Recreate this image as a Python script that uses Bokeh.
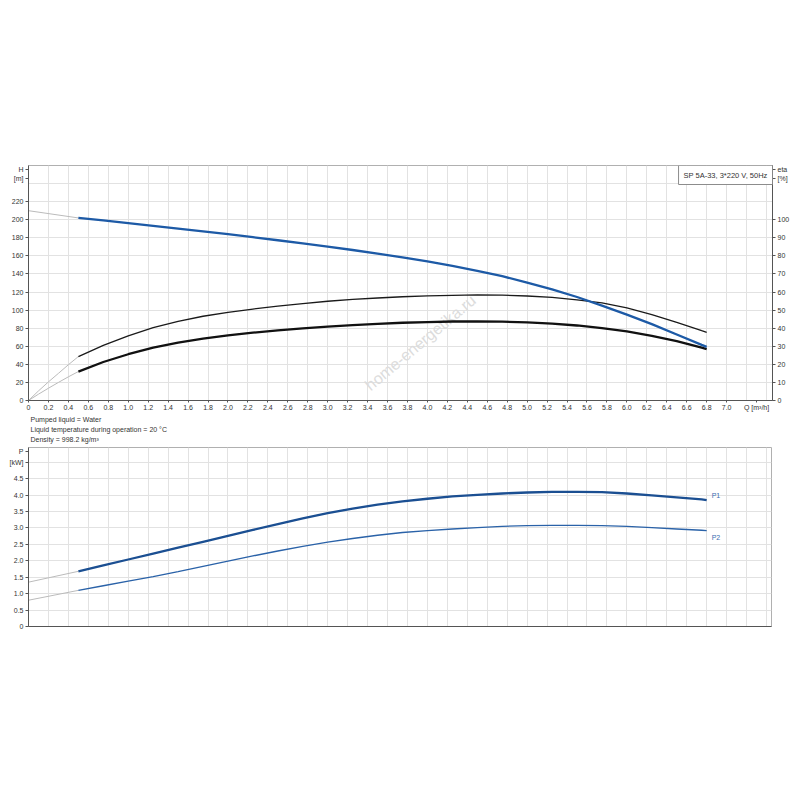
from bokeh.plotting import figure
from bokeh.models import Range1d, LinearAxis, FixedTicker, Label, Title
from bokeh.layouts import column
from bokeh.embed import file_html
from bokeh.resources import INLINE

FONT = "Liberation Sans"

# flow axis, m3/h
q_main = [0.5, 0.75, 1.0, 1.25, 1.5, 1.75, 2.0, 2.25, 2.5, 2.75, 3.0, 3.25, 3.5, 3.75,
          4.0, 4.25, 4.5, 4.75, 5.0, 5.25, 5.5, 5.75, 6.0, 6.25, 6.5, 6.75, 6.8]
# head H [m]
head = [202, 199.2, 196.2, 193.2, 190.2, 187.1, 184, 180.7, 177.3, 173.8, 170.2, 166.5, 162.5, 158.3,
        154, 149, 143.5, 137.5, 130.5, 123, 114.5, 105, 95, 84.5, 73, 61.5, 59.3]
# eta pump [%]
eta_pump = [24.3, 30.5, 35.8, 40.3, 43.8, 46.6, 48.8, 50.6, 52.2, 53.6, 54.9, 55.9, 56.7, 57.4,
            57.9, 58.2, 58.4, 58.3, 57.8, 57.0, 55.7, 54.0, 51.2, 47.5, 43.2, 38.6, 37.7]
# eta total [%]
eta_total = [16.0, 21.3, 25.6, 29.2, 32.0, 34.2, 36.0, 37.5, 38.8, 39.9, 40.9, 41.7, 42.4, 43.0,
             43.4, 43.7, 43.8, 43.6, 43.2, 42.5, 41.5, 40.0, 38.2, 35.8, 32.9, 29.2, 28.4]
# power [kW]
p1 = [1.68, 1.86, 2.04, 2.22, 2.40, 2.58, 2.76, 2.94, 3.12, 3.29, 3.45, 3.59, 3.71, 3.81,
      3.89, 3.96, 4.01, 4.05, 4.08, 4.10, 4.10, 4.09, 4.05, 3.99, 3.93, 3.87, 3.85]
p2 = [1.10, 1.24, 1.38, 1.52, 1.67, 1.83, 1.99, 2.15, 2.30, 2.44, 2.57, 2.68, 2.78, 2.86,
      2.92, 2.97, 3.01, 3.05, 3.07, 3.08, 3.08, 3.07, 3.05, 3.01, 2.97, 2.93, 2.92]

# grey parts below the minimum flow
q_low = [0.0, 0.5]
head_low = [210, 202]
p1_low = [1.35, 1.68]
p2_low = [0.80, 1.10]
q_low_eta = [0.0, 0.1, 0.2, 0.3, 0.4, 0.5]
eta_pump_low = [0.0, 5.3, 10.3, 15.0, 19.8, 24.3]
eta_total_low = [0.0, 3.5, 6.8, 10.0, 13.1, 16.0]

q_ticks = [round(0.2 * i, 1) for i in range(36)]
q_grid = [round(0.2 * i, 1) for i in range(38)]
h_ticks = list(range(0, 240, 20))
h_grid = list(range(0, 260, 20))
eta_ticks = list(range(0, 110, 10))
p_ticks = [0, 0.5, 1.0, 1.5, 2.0, 2.5, 3.0, 3.5, 4.0, 4.5]
p_grid = [0, 0.5, 1.0, 1.5, 2.0, 2.5, 3.0, 3.5, 4.0, 4.5, 5.0]
notes = ["Pumped liquid = Water",
         "Liquid temperature during operation = 20 °C",
         "Density = 998.2 kg/m³"]

BLUE = "#1d5aa6"
GREY = "#bbbbbb"


def style_axis(ax):
    ax.axis_line_color = "#555555"
    ax.major_tick_line_color = "#555555"
    ax.major_tick_in = 0
    ax.major_tick_out = 3
    ax.minor_tick_line_color = None
    ax.major_label_standoff = 2
    ax.major_label_text_font = FONT
    ax.major_label_text_font_size = "7px"
    ax.major_label_text_color = "#333333"


def num(t):
    return "0" if t == 0 else "%.1f" % t


# ---- top chart: head and efficiency
top = figure(frame_width=744, frame_height=235, x_range=Range1d(0, 7.46), y_range=Range1d(0, 260),
             min_border_left=28, min_border_right=26, min_border_top=165, min_border_bottom=44,
             output_backend="svg", toolbar_location=None)
top.extra_y_ranges = {"eta": Range1d(0, 130)}
top.outline_line_color = "#b0b0b0"

# axis names sit in the tick label slots
x_labels = {t: num(t) for t in q_ticks}
x_labels[7.3] = "Q [m³/h]"
top.xaxis.ticker = FixedTicker(ticks=q_ticks + [7.3])
top.xaxis.major_label_overrides = x_labels
h_labels = {t: str(t) for t in h_ticks}
h_labels.update({245.5: "[m]", 255.5: "H"})
top.yaxis.ticker = FixedTicker(ticks=h_ticks + [245.5, 255.5])
top.yaxis.major_label_overrides = h_labels
eta_labels = {t: str(t) for t in eta_ticks}
eta_labels.update({123: "[%]", 127.7: "eta"})
eta_axis = LinearAxis(y_range_name="eta", ticker=FixedTicker(ticks=eta_ticks + [123, 127.7]),
                      major_label_overrides=eta_labels)
top.add_layout(eta_axis, "right")
top.xgrid.ticker = FixedTicker(ticks=q_grid)
top.ygrid.ticker = FixedTicker(ticks=h_grid)
for g in (top.xgrid, top.ygrid):
    g.grid_line_color = "#e2e2e2"
for ax in (top.xaxis[0], top.yaxis[0], eta_axis):
    style_axis(ax)
top.xaxis.major_tick_out = 2
top.xaxis.major_label_standoff = 1

# watermark
top.add_layout(Label(x=3.93, y=64, text="home-energetika.ru", angle=40, angle_units="deg",
                     text_align="center", text_baseline="middle", text_font=FONT,
                     text_font_size="16px", text_color="#dcdcdc", level="underlay"))

top.line(q_low, head_low, line_color=GREY, line_width=1)
top.line(q_low_eta, eta_pump_low, line_color=GREY, line_width=1, y_range_name="eta")
top.line(q_low_eta, eta_total_low, line_color=GREY, line_width=1, y_range_name="eta")
top.line(q_main, eta_pump, line_color="#1a1a1a", line_width=1.3, y_range_name="eta")
top.line(q_main, eta_total, line_color="#111111", line_width=2.3, y_range_name="eta")
top.line(q_main, head, line_color=BLUE, line_width=2.3)

top.add_layout(Label(x=7.46, y=260, text="SP 5A-33, 3*220 V, 50Hz",
                     text_align="right", text_baseline="top", text_font=FONT, text_font_size="7.5px",
                     text_color="#333333", border_line_color="#8c8c8c", background_fill_color="white",
                     padding=5))
for line in notes:
    top.add_layout(Title(text=line, align="left", offset=2, standoff=1, text_font=FONT,
                         text_font_size="7px", text_font_style="normal", text_color="#333333"),
                   "below")

# ---- bottom chart: power
bot = figure(frame_width=743, frame_height=179, x_range=Range1d(0, 7.45), y_range=Range1d(0, 5.45),
             min_border_left=28, min_border_right=27, min_border_top=3, min_border_bottom=10,
             output_backend="svg", toolbar_location=None)
bot.outline_line_color = "#b0b0b0"
bot.xaxis.ticker = FixedTicker(ticks=[])
p_labels = {t: num(t) for t in p_ticks}
p_labels.update({5.0: "[kW]", 5.33: "P"})
bot.yaxis.ticker = FixedTicker(ticks=p_ticks + [5.0, 5.33])
bot.yaxis.major_label_overrides = p_labels
bot.xgrid.ticker = FixedTicker(ticks=q_grid)
bot.ygrid.ticker = FixedTicker(ticks=p_grid)
for g in (bot.xgrid, bot.ygrid):
    g.grid_line_color = "#e2e2e2"
for ax in (bot.xaxis[0], bot.yaxis[0]):
    style_axis(ax)

bot.line(q_low, p1_low, line_color=GREY, line_width=1)
bot.line(q_low, p2_low, line_color=GREY, line_width=1)
bot.line(q_main, p1, line_color="#1b4f92", line_width=2.3)
bot.line(q_main, p2, line_color="#2a62a8", line_width=1.4)

for name, y in (("P1", 3.99), ("P2", 2.71)):
    bot.add_layout(Label(x=6.85, y=y, text=name, text_align="left", text_baseline="middle",
                         text_font=FONT, text_font_size="7px", text_color="#3a6db0"))

layout = column(top, bot)
open("out.html", "w").write(file_html(layout, INLINE))
